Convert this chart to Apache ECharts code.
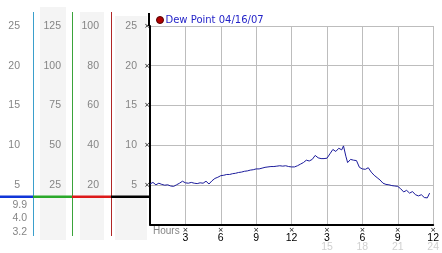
<!DOCTYPE html>
<html><head><meta charset="utf-8">
<script src="https://cdn.jsdelivr.net/npm/echarts@6/dist/echarts.min.js"></script>
<style>html,body{margin:0;padding:0;background:#fff}#c{width:442px;height:253px}</style>
</head><body><div id="c"></div>
<script>
// ---- data ----
const seriesName = 'Dew Point 04/16/07';
const hours = [0,0.25,0.5,0.75,1,1.25,1.5,1.75,2,2.25,2.5,2.75,3,3.25,3.5,3.75,4,4.25,4.5,4.75,5,5.25,5.5,5.75,6,6.25,6.5,6.75,7,7.25,7.5,7.75,8,8.25,8.5,8.75,9,9.25,9.5,9.75,10,10.25,10.5,10.75,11,11.25,11.5,11.75,12,12.25,12.5,12.75,13,13.25,13.5,13.75,14,14.25,14.5,14.75,15,15.25,15.5,15.75,16,16.25,16.4,16.6,16.75,17,17.25,17.5,17.75,18,18.25,18.5,18.75,19,19.25,19.5,19.75,20,20.25,20.5,20.75,21,21.25,21.5,21.75,22,22.25,22.5,22.75,23,23.25,23.5,23.7];
const dewPoint = [5.1,5.3,5.0,5.2,5.05,4.95,5.0,4.85,4.8,5.0,5.2,5.45,5.25,5.2,5.3,5.2,5.15,5.25,5.2,5.45,5.1,5.5,5.8,5.95,6.15,6.2,6.3,6.3,6.4,6.45,6.55,6.6,6.7,6.75,6.85,6.9,7.0,7.0,7.1,7.2,7.25,7.3,7.3,7.35,7.4,7.35,7.4,7.3,7.25,7.25,7.4,7.6,7.8,8.1,8.0,8.2,8.7,8.4,8.3,8.3,8.35,8.9,9.45,9.2,9.6,9.4,9.9,8.6,7.8,8.2,8.1,8.05,7.2,7.0,6.95,7.15,6.6,6.2,5.9,5.6,5.2,5.05,5.0,4.9,4.85,4.8,4.5,4.1,4.3,3.95,4.15,3.75,3.6,3.75,3.4,3.35,3.95];
const xTicks = [0,3,6,9,12,15,18,21,24];
const col1Ticks = [5,10,15,20,25];      // leftmost column (cyan)
const col2Ticks = [25,50,75,100,125];   // green column
const col3Ticks = [20,40,60,80,100];    // red column
const col4Ticks = [5,10,15,20,25];      // black column
const markValue = 3.5;
const statLabels = ['9.9','4.0','3.2'];

// ---- layout ----
const GL = 150, GT = 26, GR = 4, GB = 28;
const numFont = 'Liberation Sans';
const grey = '#858585';

const chart = echarts.init(document.getElementById('c'), null, {renderer:'canvas'});

function colAxis(ticks, offset, margin){
  const mx = ticks[ticks.length-1];
  return {
    type:'value', position:'left', offset:offset, min:0, max:mx, interval:ticks[0],
    axisLine:{show:false}, axisTick:{show:false}, splitLine:{show:false},
    axisLabel:{margin:margin, color:grey, fontFamily:numFont, fontSize:10.5,
      formatter:v => ticks.indexOf(v) >= 0 ? String(v) : ''}
  };
}

const option = {
  animation:false,
  backgroundColor:'#fff',
  grid:{left:GL, top:GT, right:GR, bottom:GB, containLabel:false},
  legend:{
    left:156, top:15, padding:0, itemWidth:7, itemHeight:7, icon:'circle',
    data:[{name:seriesName, itemStyle:{color:'#b00000', borderColor:'#500', borderWidth:1}}],
    textStyle:{color:'#2424c8', fontFamily:'DejaVu Sans', fontSize:10, padding:[0,0,0,-3]}
  },
  xAxis:{
    type:'value', min:xTicks[0], max:xTicks[xTicks.length-1], interval:3,
    axisLine:{lineStyle:{color:'#000', width:2}},
    axisTick:{show:false},
    splitLine:{show:true, showMinLine:false, lineStyle:{color:'#bdbdbd', width:1}},
    axisLabel:{margin:3, interval:0,
      formatter: v => {
        if (v === 0) return '';
        const h = v % 12 === 0 ? 12 : v % 12;
        let s = '{x|×}\n{n|' + h + '}';
        if (v > 12) s += '\n{g|' + v + '}';
        return s;
      },
      rich:{
        x:{fontSize:7, lineHeight:6, color:'#000', fontFamily:'DejaVu Sans'},
        n:{fontSize:10.5, lineHeight:9, color:'#000', fontFamily:numFont},
        g:{fontSize:10.5, lineHeight:10, color:'#d0d0d0', fontFamily:numFont}
      }
    }
  },
  yAxis:[
    {type:'value', min:0, max:25, interval:5, position:'left', offset:1,
      axisLine:{show:true, lineStyle:{color:'#000', width:2}},
      axisTick:{show:false},
      splitLine:{show:true, showMinLine:false, lineStyle:{color:'#bdbdbd', width:1}},
      axisLabel:{margin:-1, fontSize:7, color:'#000', fontFamily:'DejaVu Sans',
        formatter: v => v === 0 ? '' : '×'}},
    colAxis(col4Ticks, 1, 12),
    colAxis(col3Ticks, 39, 12),
    colAxis(col2Ticks, 78, 11),
    colAxis(col1Ticks, 117, 13)
  ],
  series:[{
    name:seriesName, type:'line', showSymbol:false, xAxisIndex:0, yAxisIndex:0,
    data: hours.map((h,i) => [h, dewPoint[i]]),
    lineStyle:{color:'#1c1c9c', width:1}, itemStyle:{color:'#1c1c9c'}
  }]
};
chart.setOption(option);

// decorations around the left panel
const markY = chart.convertToPixel({yAxisIndex:0}, markValue);
const axisBottom = chart.convertToPixel({yAxisIndex:0}, 0);
const topY = chart.convertToPixel({yAxisIndex:0}, 25);
const xCyan = GL - 117, xGreen = GL - 78, xRed = GL - 39, xBlack = GL - 1;
const g = [];
[[40,7,26],[80,12,24],[115,16,32]].forEach(b => g.push({type:'rect', z:-10, silent:true,
  shape:{x:b[0], y:b[1], width:b[2], height:240-b[1]}, style:{fill:'#f4f4f4'}}));
[[xCyan,'#3a9fcc'],[xGreen,'#3aa33a'],[xRed,'#b02626']].forEach(l => g.push({type:'line', z:5,
  shape:{x1:l[0]+0.5, y1:12, x2:l[0]+0.5, y2:236}, style:{stroke:l[1], lineWidth:1}}));
g.push({type:'line', z:5, shape:{x1:xBlack, y1:13, x2:xBlack, y2:topY}, style:{stroke:'#000', lineWidth:2}});
[[0,xCyan,'#1035d8'],[xCyan,xGreen,'#2aa82a'],[xGreen,xRed,'#dc1a1a'],[xRed,xBlack,'#000']].forEach(s => g.push({type:'line', z:6,
  shape:{x1:s[0], y1:markY, x2:s[1], y2:markY}, style:{stroke:s[2], lineWidth:2.5}}));
statLabels.forEach((t,i) => g.push({type:'text', z:6, x:27, y:markY + 8 + i*13.5,
  style:{text:t, fill:grey, font:'10.5px "Liberation Sans"', align:'right', verticalAlign:'middle'}}));
g.push({type:'text', z:6, x:GL + 3, y:axisBottom + 7,
  style:{text:'Hours', fill:grey, font:'10px "Liberation Sans"', align:'left', verticalAlign:'middle'}});
chart.setOption({graphic:g});
</script></body></html>
